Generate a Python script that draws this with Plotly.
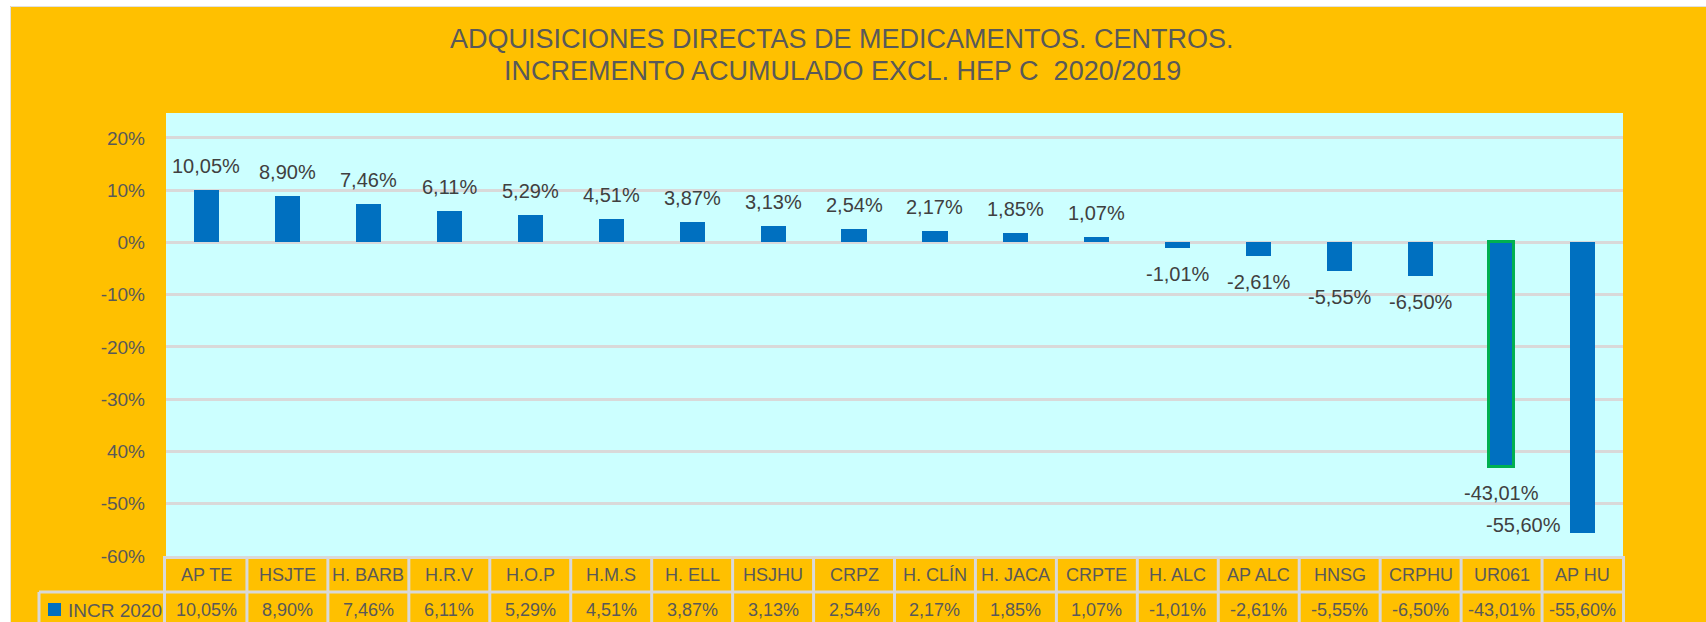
import plotly.graph_objects as go

categories = ["AP TE", "HSJTE", "H. BARB", "H.R.V", "H.O.P", "H.M.S", "H. ELL", "HSJHU", "CRPZ",
              "H. CLÍN", "H. JACA", "CRPTE", "H. ALC", "AP ALC", "HNSG", "CRPHU", "UR061", "AP HU"]
values = [10.05, 8.90, 7.46, 6.11, 5.29, 4.51, 3.87, 3.13, 2.54,
          2.17, 1.85, 1.07, -1.01, -2.61, -5.55, -6.50, -43.01, -55.60]
series_name = "INCR 2020"
tick_vals = [20, 10, 0, -10, -20, -30, -40, -50, -60]
tick_text = ["20%", "10%", "0%", "-10%", "-20%", "-30%", "40%", "-50%", "-60%"]
title_lines = ["ADQUISICIONES DIRECTAS DE MEDICAMENTOS. CENTROS.",
               "INCREMENTO ACUMULADO EXCL. HEP C  2020/2019"]

W, H = 1706, 622
ML, MR, MT, MB = 166, 83, 113, 66
PW, PH = W - ML - MR, H - MT - MB


def px_x(px):
    return (px - ML) / PW


def px_y(py):
    return (H - MB - py) / PH


def fmt(v):
    return f"{v:.2f}".replace(".", ",") + "%"


FONT = "Liberation Sans, Arial, sans-serif"
ORANGE = "#FFC000"
GRID = "#D9D9D9"
BLUE = "#0070C0"
TXT = "#595959"

xs = list(range(len(categories)))
line_colors = ["#00B050" if c == "UR061" else BLUE for c in categories]
line_widths = [3 if c == "UR061" else 0 for c in categories]

fig = go.Figure()
fig.add_trace(go.Bar(
    x=xs, y=values, width=0.31, name=series_name,
    marker=dict(color=BLUE, line=dict(color=line_colors, width=line_widths)),
    hoverinfo="skip",
))

annotations = []
# title
for i, line in enumerate(title_lines):
    baseline = 48 + 32 * i
    annotations.append(dict(text=line, xref="paper", yref="paper", x=px_x(842),
                            y=px_y(baseline - 0.33 * 27), xanchor="center", yanchor="middle",
                            showarrow=False, font=dict(family=FONT, size=27, color=TXT)))

# data labels
for i, v in enumerate(values):
    if i == len(values) - 1:
        annotations.append(dict(text=fmt(v), xref="x", yref="y", x=i, y=v, xanchor="right",
                                yanchor="middle", xshift=-19.5, yshift=8, showarrow=False,
                                font=dict(family=FONT, size=20, color="#404040")))
    else:
        annotations.append(dict(text=fmt(v), xref="x", yref="y", x=i, y=v, xanchor="center",
                                yanchor="middle", yshift=24 if v >= 0 else -26, showarrow=False,
                                font=dict(family=FONT, size=20, color="#404040")))

# table: category row and value row
for i, (c, v) in enumerate(zip(categories, values)):
    annotations.append(dict(text=c, xref="x", yref="paper", x=i, y=px_y(575), xanchor="center",
                            yanchor="middle", showarrow=False,
                            font=dict(family=FONT, size=18, color=TXT)))
    annotations.append(dict(text=fmt(v), xref="x", yref="paper", x=i, y=px_y(610), xanchor="center",
                            yanchor="middle", showarrow=False,
                            font=dict(family=FONT, size=18, color=TXT)))
annotations.append(dict(text=series_name, xref="paper", yref="paper", x=px_x(66), y=px_y(610),
                        xanchor="left", yanchor="middle", showarrow=False,
                        font=dict(family=FONT, size=19, color=TXT)))

shapes = []
# white page edges
shapes.append(dict(type="rect", xref="paper", yref="paper", x0=px_x(-5), x1=px_x(10),
                   y0=px_y(H + 5), y1=px_y(-5), fillcolor="white", line=dict(width=0)))
shapes.append(dict(type="rect", xref="paper", yref="paper", x0=px_x(-5), x1=px_x(W + 5),
                   y0=px_y(6), y1=px_y(-5), fillcolor="white", line=dict(width=0)))
shapes.append(dict(type="line", xref="paper", yref="paper", x0=px_x(10.5), x1=px_x(10.5),
                   y0=px_y(6.5), y1=px_y(H + 5), line=dict(color="#E0E0E0", width=1)))
shapes.append(dict(type="line", xref="paper", yref="paper", x0=px_x(10.5), x1=px_x(W + 5),
                   y0=px_y(6.5), y1=px_y(6.5), line=dict(color="#E0E0E0", width=1)))
# legend square
shapes.append(dict(type="rect", xref="paper", yref="paper", x0=px_x(48), x1=px_x(61),
                   y0=px_y(616), y1=px_y(603), fillcolor=BLUE, line=dict(width=0)))
# table borders
tb = dict(color=GRID, width=3)
shapes.append(dict(type="line", xref="paper", yref="paper", x0=0, x1=1,
                   y0=px_y(557.5), y1=px_y(557.5), line=tb))
shapes.append(dict(type="line", xref="paper", yref="paper", x0=px_x(39), x1=1,
                   y0=px_y(592), y1=px_y(592), line=tb))
shapes.append(dict(type="line", xref="paper", yref="paper", x0=px_x(39), x1=px_x(39),
                   y0=px_y(592), y1=px_y(H + 5), line=tb))
shapes.append(dict(type="line", xref="paper", yref="paper", x0=px_x(164.5), x1=px_x(164.5),
                   y0=px_y(556), y1=px_y(H + 5), line=tb))
shapes.append(dict(type="line", xref="paper", yref="paper", x0=px_x(1623.5), x1=px_x(1623.5),
                   y0=px_y(556), y1=px_y(H + 5), line=tb))
for i in range(1, len(categories)):
    shapes.append(dict(type="line", xref="x", yref="paper", x0=i - 0.5, x1=i - 0.5,
                       y0=px_y(556), y1=px_y(H + 5), line=tb))

fig.update_layout(
    width=W, height=H,
    margin=dict(l=ML, r=MR, t=MT, b=MB, pad=0),
    paper_bgcolor=ORANGE, plot_bgcolor="#CCFFFF",
    showlegend=False, bargap=0,
    xaxis=dict(range=[-0.5, len(categories) - 0.5], showticklabels=False, showgrid=False,
               zeroline=False, showline=False, ticks=""),
    yaxis=dict(range=[-60, 24.78], tickvals=tick_vals, ticktext=tick_text, showgrid=True,
               gridcolor=GRID, gridwidth=2.5, zeroline=True, zerolinecolor=GRID, zerolinewidth=3,
               showline=False, ticks="", ticklabelstandoff=20,
               tickfont=dict(family=FONT, size=19, color=TXT)),
    annotations=annotations, shapes=shapes,
)

fig.write_html(
    "out.html",
    config={"displayModeBar": False},
    post_script="document.body.style.margin='0';document.body.style.overflow='hidden';",
)
